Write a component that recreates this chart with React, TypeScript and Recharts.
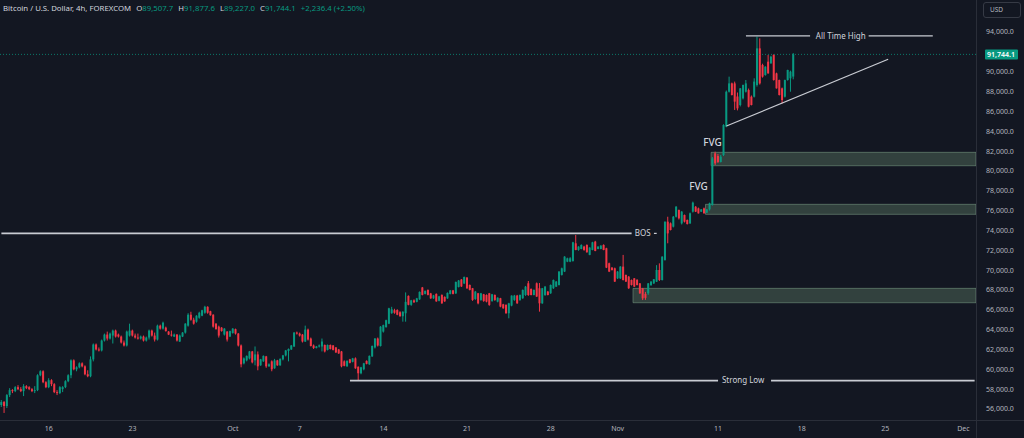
import React from 'react';
import { ComposedChart, Bar, XAxis, YAxis, ReferenceLine, ReferenceArea, ReferenceDot } from 'recharts';

// Prices in thousands of USD. Each candle: [open, high, low, close]
type C = [number, number, number, number];

const candlesSep11: C[] = [
  [56.4, 56.9, 56.2, 56.7], [56.7, 56.8, 55.6, 56.3], [56.3, 57.5, 56.1, 57.4], [57.4, 58.1, 57.2, 57.9],
  [57.9, 58.0, 57.6, 57.8], [57.8, 58.3, 57.7, 58.2], [58.2, 58.4, 57.9, 58.0], [58.0, 58.2, 57.7, 57.8],
  [57.8, 58.5, 57.3, 58.3], [58.3, 58.4, 58.0, 58.1], [58.2, 58.3, 57.9, 58.0], [58.0, 58.1, 57.7, 57.8],
  [57.8, 58.3, 57.6, 57.9], [57.9, 59.5, 57.8, 59.4], [59.4, 59.9, 59.3, 59.8], [59.8, 59.9, 58.6, 58.7],
  [58.7, 58.8, 58.1, 58.2],
];
const candlesSep16: C[] = [
  [58.2, 59.1, 58.1, 58.9], [58.9, 59.0, 58.3, 58.5], [58.5, 58.6, 57.6, 57.7], [57.7, 57.9, 57.4, 57.6],
  [57.6, 58.3, 57.5, 58.2], [58.0, 58.3, 57.7, 58.2], [58.2, 58.9, 58.1, 58.8], [58.8, 59.5, 58.7, 59.4],
  [59.4, 61.0, 59.1, 60.9], [60.9, 61.0, 59.9, 60.0], [60.0, 60.3, 59.8, 60.2], [60.2, 60.7, 60.1, 60.6],
  [60.6, 60.7, 60.2, 60.3], [60.3, 60.4, 59.4, 59.5], [59.5, 59.9, 59.2, 59.3], [59.3, 61.3, 59.2, 61.0],
  [61.0, 62.6, 60.8, 62.5], [62.5, 62.6, 61.9, 62.0], [62.0, 62.2, 61.8, 61.9], [61.9, 63.0, 61.8, 62.9],
  [62.9, 63.6, 62.8, 63.5], [63.5, 63.8, 62.9, 63.1], [63.1, 63.7, 63.0, 63.6], [63.4, 64.0, 62.6, 63.9],
  [63.9, 64.0, 63.2, 63.3], [63.5, 63.6, 63.2, 63.3], [63.3, 63.4, 62.6, 62.7], [62.7, 62.9, 62.3, 62.4],
  [62.4, 63.9, 62.3, 63.8], [63.4, 64.6, 63.3, 63.9],
];
const candlesSep23: C[] = [
  [63.9, 64.0, 63.3, 63.4], [63.4, 63.6, 63.1, 63.2], [63.2, 63.6, 63.0, 63.1], [63.1, 63.4, 63.0, 63.3],
  [63.3, 63.4, 62.8, 62.9], [62.9, 63.3, 62.8, 63.2], [63.2, 64.0, 63.0, 63.9], [63.9, 64.0, 63.3, 63.4],
  [63.4, 63.7, 62.8, 63.0], [63.0, 64.5, 62.9, 64.4], [64.4, 64.5, 64.0, 64.1], [64.1, 64.8, 64.0, 64.7],
  [64.2, 64.3, 63.8, 63.85], [63.8, 63.85, 63.45, 63.5], [63.5, 63.9, 63.3, 63.4], [63.3, 63.6, 63.25, 63.5],
  [63.5, 63.55, 62.8, 62.9], [62.8, 63.5, 62.75, 63.4], [63.3, 63.75, 63.25, 63.7], [63.7, 64.65, 63.6, 64.6],
  [64.4, 65.65, 64.3, 65.5], [65.5, 65.8, 64.9, 65.0], [65.0, 65.2, 64.5, 64.6], [64.8, 65.45, 64.7, 65.4],
  [65.2, 65.8, 65.1, 65.7], [65.4, 66.0, 65.35, 65.95], [65.7, 66.4, 65.6, 66.3], [66.3, 66.35, 65.6, 65.7],
  [65.85, 65.9, 65.4, 65.45], [65.5, 65.55, 64.2, 64.3],
];
const candlesSep30: C[] = [
  [64.6, 64.65, 64.0, 64.05], [64.3, 64.4, 63.2, 63.4], [64.2, 64.25, 63.8, 63.85], [63.5, 64.15, 63.4, 64.1],
  [63.8, 63.85, 62.8, 63.0], [63.3, 63.9, 63.25, 63.85], [63.65, 64.15, 63.6, 64.1], [64.05, 64.1, 63.5, 63.6],
  [63.6, 63.65, 62.3, 62.4], [62.4, 62.5, 60.2, 60.5], [60.6, 61.2, 60.5, 61.1], [60.9, 61.4, 60.8, 61.35],
  [61.1, 61.85, 61.0, 61.8], [61.8, 61.85, 60.6, 60.7], [60.9, 62.3, 60.4, 61.5], [61.5, 61.8, 59.9, 60.3],
  [60.4, 61.05, 60.35, 61.0], [60.8, 61.4, 60.75, 61.35], [61.3, 61.35, 60.15, 60.3], [60.3, 60.6, 60.25, 60.5],
  [60.8, 60.9, 59.8, 60.0], [60.1, 61.05, 60.05, 60.9], [60.9, 60.95, 60.35, 60.4], [60.4, 61.1, 60.35, 61.05],
  [61.0, 61.45, 60.9, 61.4], [61.4, 61.95, 61.3, 61.9], [61.85, 62.1, 60.8, 62.05], [62.0, 62.45, 61.95, 62.4],
  [62.3, 63.75, 62.25, 63.7], [63.7, 63.8, 63.5, 63.6],
];
const candlesOct7: C[] = [
  [63.6, 63.7, 63.3, 63.4], [63.5, 63.55, 62.7, 62.8], [62.8, 64.4, 62.75, 64.0], [64.0, 64.1, 62.9, 63.0],
  [63.1, 63.2, 62.3, 62.35], [62.4, 62.5, 62.05, 62.15], [62.15, 62.35, 62.1, 62.3], [62.3, 62.5, 62.2, 62.4],
  [62.3, 63.1, 61.8, 62.8], [62.45, 62.5, 61.7, 61.8], [61.95, 62.5, 61.9, 62.45], [62.45, 62.5, 62.0, 62.05],
  [62.4, 62.45, 61.9, 61.95], [62.2, 62.25, 61.65, 61.7], [62.0, 62.05, 61.55, 61.6], [61.8, 61.85, 60.2, 60.3],
  [60.8, 60.9, 60.3, 60.35], [60.3, 60.9, 60.25, 60.85], [61.0, 61.05, 60.6, 60.65], [60.75, 61.15, 60.7, 61.1],
  [61.1, 61.2, 60.05, 60.1], [60.25, 60.3, 58.9, 59.6], [59.6, 60.25, 59.5, 60.2], [60.0, 60.65, 59.9, 60.6],
  [60.85, 60.9, 60.5, 60.55], [60.5, 61.4, 60.45, 61.35], [61.3, 62.4, 61.25, 62.35], [62.2, 63.15, 62.1, 63.1],
  [63.1, 63.2, 62.3, 62.4], [62.35, 64.35, 62.3, 64.3],
];
const candlesOct14: C[] = [
  [63.8, 64.5, 63.7, 64.45], [64.25, 65.0, 64.2, 64.95], [64.6, 66.2, 64.55, 66.15], [65.65, 66.3, 65.6, 66.05],
  [65.95, 66.1, 65.6, 65.7], [65.98, 66.05, 65.45, 65.5], [65.75, 65.85, 65.3, 65.35], [65.35, 65.85, 64.8, 65.8],
  [65.65, 67.75, 64.8, 66.8], [67.4, 67.45, 66.45, 66.5], [66.5, 67.0, 66.4, 66.95], [66.95, 67.05, 66.7, 66.75],
  [66.8, 67.2, 66.75, 67.15], [67.05, 67.85, 67.0, 67.8], [68.25, 68.3, 67.45, 67.5], [67.6, 67.95, 67.55, 67.9],
  [68.0, 68.05, 67.45, 67.5], [67.65, 67.7, 67.1, 67.15], [67.15, 67.5, 67.1, 67.45], [67.6, 67.65, 66.8, 66.85],
  [66.9, 67.4, 66.85, 67.35], [67.5, 67.55, 66.6, 66.65], [67.3, 67.35, 66.8, 66.85], [67.15, 67.75, 67.1, 67.7],
  [67.6, 68.0, 67.55, 67.95], [67.95, 68.0, 67.55, 67.6], [67.65, 68.85, 67.6, 68.8], [68.3, 69.0, 68.25, 68.95],
  [69.05, 69.1, 68.3, 68.35], [68.65, 69.35, 68.6, 69.3],
];
const candlesOct21: C[] = [
  [69.24, 69.3, 68.1, 68.17], [68.5, 68.55, 67.95, 68.0], [68.17, 68.2, 66.9, 66.99], [67.09, 67.9, 67.0, 67.83],
  [67.66, 67.7, 66.55, 66.65], [66.99, 67.7, 66.9, 67.66], [67.56, 67.6, 66.8, 66.89], [67.49, 67.55, 66.75, 66.82],
  [67.66, 67.7, 66.4, 66.49], [66.89, 67.6, 66.8, 67.56], [67.49, 67.55, 66.9, 66.99], [66.82, 67.25, 66.75, 67.22],
  [67.16, 67.2, 66.25, 66.32], [66.55, 66.6, 66.1, 66.15], [66.49, 66.55, 65.6, 65.65], [65.65, 66.7, 65.14, 66.65],
  [66.42, 67.45, 66.35, 67.43], [66.99, 67.5, 66.9, 67.43], [67.43, 67.5, 66.6, 66.65], [66.99, 67.55, 66.9, 67.49],
  [67.16, 68.05, 67.1, 68.0], [67.49, 68.4, 67.4, 68.33], [68.67, 68.9, 67.4, 67.49], [68.1, 68.15, 67.45, 67.49],
  [67.49, 68.05, 67.45, 68.0], [68.67, 68.75, 67.3, 67.33], [68.17, 68.7, 65.81, 66.65], [66.65, 68.2, 66.6, 68.17],
  [67.49, 68.4, 67.4, 68.33], [67.83, 67.9, 67.45, 67.49],
];
const candlesOct28: C[] = [
  [67.66, 68.55, 67.6, 68.5], [68.17, 69.05, 68.1, 69.0], [68.33, 68.9, 68.3, 68.84], [68.5, 69.9, 68.45, 69.85],
  [69.51, 70.25, 69.45, 70.18], [69.85, 71.4, 69.8, 71.36], [70.85, 71.25, 70.8, 71.19], [70.85, 71.3, 70.8, 71.19],
  [70.92, 72.85, 70.85, 72.8], [72.7, 73.54, 72.0, 72.03], [72.03, 72.4, 71.95, 72.37], [72.13, 72.6, 72.1, 72.53],
  [72.37, 72.45, 71.95, 72.03], [72.53, 72.6, 71.75, 71.8], [71.53, 72.3, 71.5, 72.27], [72.03, 72.85, 72.0, 72.8],
  [72.87, 72.95, 71.9, 71.93], [72.13, 72.4, 72.1, 72.37], [72.13, 72.5, 72.1, 72.47], [72.53, 72.6, 72.0, 72.03],
  [72.2, 72.25, 70.2, 70.25], [70.69, 70.75, 69.8, 69.85], [70.25, 70.3, 69.95, 70.01], [70.18, 70.25, 68.8, 68.84],
  [69.17, 69.9, 69.1, 69.85], [69.17, 70.4, 69.1, 70.35], [70.35, 71.53, 68.95, 69.0], [69.51, 69.55, 68.8, 68.84],
  [69.34, 69.4, 68.1, 68.17], [69.0, 69.05, 68.45, 68.5],
];
const candlesNov4: C[] = [
  [69.17, 69.2, 68.3, 68.33], [69.0, 69.1, 68.45, 68.5], [68.66, 68.7, 67.6, 67.66], [68.16, 68.2, 66.98, 67.15],
  [67.6, 67.8, 67.0, 67.2], [67.66, 68.7, 67.5, 68.66], [68.5, 68.9, 68.4, 68.83], [68.66, 69.1, 68.6, 69.07],
  [68.83, 70.5, 68.8, 70.01], [70.01, 70.68, 68.9, 69.0], [69.0, 71.4, 68.95, 71.35], [71.02, 74.9, 70.95, 74.88],
  [74.88, 75.38, 72.7, 73.7], [74.71, 74.8, 74.0, 74.04], [74.38, 75.45, 74.3, 75.38], [75.38, 76.45, 75.3, 76.39],
  [76.06, 76.1, 75.1, 75.22], [74.71, 75.95, 74.6, 75.89], [75.55, 75.6, 74.8, 74.88], [75.05, 75.1, 74.6, 74.64],
  [74.71, 75.8, 74.65, 75.72], [75.89, 76.9, 75.8, 76.8], [76.39, 76.45, 75.85, 75.89], [76.22, 76.3, 75.7, 75.72],
  [75.89, 76.15, 75.85, 76.12], [76.22, 76.3, 75.7, 75.72], [75.79, 76.15, 75.75, 76.12], [76.12, 76.8, 76.0, 76.73],
  [76.56, 81.4, 76.5, 81.26], [81.77, 81.94, 80.59, 80.76],
];
const candlesNov11: C[] = [
  [81.5, 81.7, 80.8, 80.9], [80.9, 81.6, 80.85, 81.43], [81.6, 84.7, 81.5, 84.62], [84.46, 88.1, 84.4, 87.98],
  [87.98, 89.5, 87.9, 88.82], [88.82, 88.9, 87.6, 87.65], [88.82, 89.0, 86.14, 86.98], [87.5, 87.9, 86.1, 86.3],
  [86.64, 88.35, 86.5, 88.32], [87.31, 88.7, 87.2, 88.66], [87.98, 89.16, 87.9, 88.82], [88.15, 88.3, 86.4, 86.47],
  [87.48, 87.6, 86.6, 86.64], [87.48, 89.33, 87.4, 89.0], [88.66, 93.53, 88.5, 92.35], [92.35, 93.36, 88.7, 88.82],
  [90.67, 90.8, 89.4, 89.5], [89.66, 90.55, 89.6, 90.5], [91.01, 91.68, 89.8, 89.83], [90.84, 91.6, 90.8, 91.51],
  [91.68, 91.75, 89.1, 89.16], [89.83, 89.9, 88.3, 88.32], [89.16, 89.2, 87.6, 87.65], [88.32, 88.4, 86.8, 87.14],
  [87.48, 89.2, 87.4, 89.16], [89.16, 90.2, 89.1, 90.17], [89.33, 90.1, 87.98, 90.0], [89.5077, 91.8776, 89.227, 91.7441],
];

const allCandles: C[] = [
  ...candlesSep11, ...candlesSep16, ...candlesSep23, ...candlesSep30, ...candlesOct7,
  ...candlesOct14, ...candlesOct21, ...candlesOct28, ...candlesNov4, ...candlesNov11,
];

const TOTAL_SLOTS = 350; // bars visible incl. empty space on the right
const tickIdx = [17, 47, 83, 107, 137, 167, 197, 221, 257, 287, 317, 345];
const tickLabels = ['16', '23', 'Oct', '7', '14', '21', '28', 'Nov', '11', '18', '25', 'Dec'];
const priceTicks = [56, 58, 60, 62, 64, 66, 68, 70, 72, 74, 76, 78, 80, 82, 84, 86, 88, 90, 94];

const lastPrice = 91.7441;
const bosLevel = 73.7;
const strongLowLevel = 58.86;
const athLevel = 93.6;
const trendStart = { i: 260, p: 84.52 };
const trendEnd = { i: 318, p: 91.25 };
const zones = [
  { x1: 255, y1: 80.52, y2: 81.87 },
  { x1: 253, y1: 75.62, y2: 76.63 },
  { x1: 227, y1: 66.71, y2: 68.16 },
];

const BG = '#131722';
const UP = '#089981';
const DOWN = '#f23645';
const TEXT = '#b2b5be';
const FONT = '"Noto Sans", "Open Sans", sans-serif';
const LINE = '#c9ccd3';

const data = Array.from({ length: TOTAL_SLOTS }, (_, i) => {
  const c = allCandles[i];
  return c
    ? { i, o: c[0], h: c[1], l: c[2], c: c[3], range: [c[2], c[1]] }
    : { i, range: null };
});

const Candle = (props: any) => {
  const { x, y, width, height, payload } = props;
  if (!payload || payload.o == null) return null;
  const { o, h, l, c } = payload;
  const color = c >= o ? UP : DOWN;
  const top = Math.min(y, y + height);
  const hh = Math.abs(height);
  const k = h > l ? hh / (h - l) : 0;
  const yO = top + (h - o) * k;
  const yC = top + (h - c) * k;
  const bt = Math.min(yO, yC);
  const bh = Math.max(1, Math.abs(yO - yC));
  const cx = x + width / 2;
  return (
    <g>
      <line x1={cx} x2={cx} y1={top} y2={top + hh} stroke={color} strokeWidth={1} />
      <rect x={cx - 1} y={bt} width={2} height={bh} fill={color} />
    </g>
  );
};

const PriceTag = (props: any) => {
  const vb = props.viewBox || {};
  const right = (vb.x || 0) + (vb.width || 0);
  const y = vb.y || 0;
  return (
    <g>
      <rect x={right + 9} y={y - 5} width={33} height={10} fill={UP} rx={1} />
      <text x={right + 11} y={y + 2.6} fill="#ffffff" fontSize={7} fontFamily={FONT} fontWeight={600}>
        91,744.1
      </text>
    </g>
  );
};

const txt = (value: string, size = 8, weight = 400) => ({
  value,
  position: 'center' as const,
  fill: '#d1d4dc',
  fontSize: size,
  fontFamily: FONT,
  fontWeight: weight,
});

export default function App() {
  const labelFor: Record<number, string> = {};
  tickIdx.forEach((t, k) => (labelFor[t] = tickLabels[k]));
  return (
    <div style={{ position: 'fixed', left: 0, top: 0, width: 1024, height: 438, background: BG, overflow: 'hidden', fontFamily: FONT }}>
      <ComposedChart width={1024} height={438} data={data} margin={{ top: 0, right: 0, left: 0, bottom: 0 }}>
        <XAxis
          dataKey="i"
          type="category"
          ticks={tickIdx}
          interval={0}
          tickFormatter={(v: any) => labelFor[v] ?? ''}
          height={18}
          tickLine={false}
          axisLine={false}
          tickSize={0}
          tickMargin={6}
          tick={{ fill: TEXT, fontSize: 7, fontFamily: FONT }}
        />
        <YAxis
          orientation="right"
          width={48}
          domain={[54.889, 97.226]}
          allowDataOverflow
          ticks={priceTicks}
          interval={0}
          tickFormatter={(v: number) => `${Math.round(v * 1000).toLocaleString('en-US')}.0`}
          tickLine={false}
          axisLine={false}
          tickSize={0}
          tickMargin={10}
          tick={{ fill: TEXT, fontSize: 7, fontFamily: FONT, textAnchor: 'start' }}
        />
        <Bar dataKey="range" isAnimationActive={false} shape={(p: any) => <Candle {...p} />} />

        {zones.map((z, k) => (
          <ReferenceArea
            key={k}
            x1={z.x1}
            x2={TOTAL_SLOTS - 1}
            y1={z.y1}
            y2={z.y2}
            fill="rgba(105,140,115,0.36)"
            fillOpacity={1}
            stroke="rgba(130,165,140,0.5)"
            strokeWidth={1}
            ifOverflow="visible"
          />
        ))}

        <ReferenceLine y={lastPrice} stroke={UP} strokeOpacity={0.75} strokeDasharray="1 2" strokeWidth={1} label={<PriceTag />} />

        <ReferenceLine segment={[{ x: 0, y: bosLevel }, { x: 226, y: bosLevel }]} stroke={LINE} strokeWidth={1.6} />
        <ReferenceLine segment={[{ x: 234, y: bosLevel }, { x: 235, y: bosLevel }]} stroke={LINE} strokeWidth={1.2} />
        <ReferenceDot x={230} y={bosLevel} r={0} fill="none" stroke="none" label={txt('BOS', 8)} />

        <ReferenceLine segment={[{ x: 125, y: strongLowLevel }, { x: 257, y: strongLowLevel }]} stroke={LINE} strokeWidth={1.6} />
        <ReferenceLine segment={[{ x: 276, y: strongLowLevel }, { x: 349, y: strongLowLevel }]} stroke={LINE} strokeWidth={1.6} />
        <ReferenceDot x={266} y={strongLowLevel} r={0} fill="none" stroke="none" label={txt('Strong Low', 8)} />

        <ReferenceLine segment={[{ x: 267, y: athLevel }, { x: 290, y: athLevel }]} stroke={LINE} strokeWidth={1.2} />
        <ReferenceLine segment={[{ x: 311, y: athLevel }, { x: 334, y: athLevel }]} stroke={LINE} strokeWidth={1.2} />
        <ReferenceDot x={301} y={athLevel} r={0} fill="none" stroke="none" label={txt('All Time High', 8)} />

        <ReferenceLine
          segment={[{ x: trendStart.i, y: trendStart.p }, { x: trendEnd.i, y: trendEnd.p }]}
          stroke={LINE}
          strokeWidth={1.2}
        />

        <ReferenceDot x={255} y={82.88} r={0} fill="none" stroke="none" label={txt('FVG', 10, 500)} />
        <ReferenceDot x={250} y={78.41} r={0} fill="none" stroke="none" label={txt('FVG', 10, 500)} />
      </ComposedChart>

      {/* pane borders */}
      <div style={{ position: 'absolute', left: 976, top: 0, width: 1, height: 438, background: '#2a2e39' }} />
      <div style={{ position: 'absolute', left: 0, top: 420, width: 1024, height: 1, background: '#2a2e39' }} />

      {/* header legend */}
      <div style={{ position: 'absolute', left: 3, top: 2, fontSize: 7.8, lineHeight: '12px', color: '#d1d4dc', whiteSpace: 'nowrap' }}>
        Bitcoin / U.S. Dollar, 4h, FOREXCOM
        <span style={{ marginLeft: 5 }}>O<span style={{ color: UP }}>89,507.7</span></span>
        <span style={{ marginLeft: 5 }}>H<span style={{ color: UP }}>91,877.6</span></span>
        <span style={{ marginLeft: 5 }}>L<span style={{ color: UP }}>89,227.0</span></span>
        <span style={{ marginLeft: 5 }}>C<span style={{ color: UP }}>91,744.1</span></span>
        <span style={{ marginLeft: 5, color: UP }}>+2,236.4 (+2.50%)</span>
      </div>

      {/* currency box */}
      <div
        style={{
          position: 'absolute', left: 983, top: 2, width: 38, height: 16, border: '1px solid #363a45', borderRadius: 3,
          boxSizing: 'border-box', color: TEXT, fontSize: 6.5, lineHeight: '14px', paddingLeft: 6,
        }}
      >
        USD
      </div>
    </div>
  );
}
